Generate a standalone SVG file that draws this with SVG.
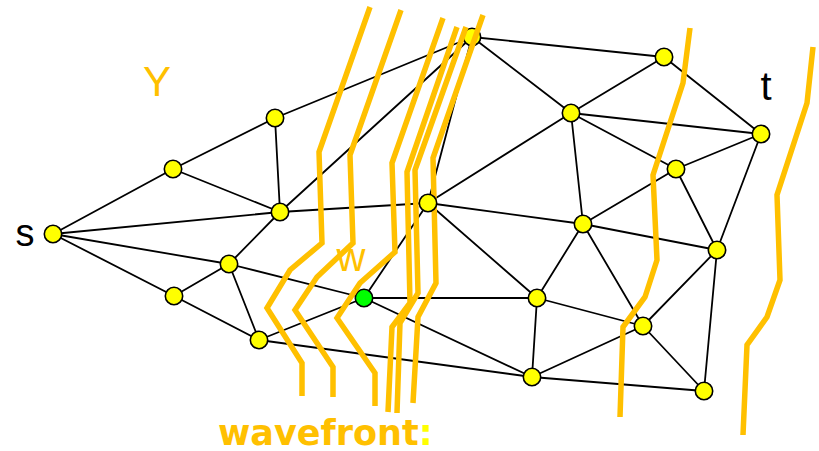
<svg xmlns="http://www.w3.org/2000/svg" width="819" height="451" viewBox="0 0 819 451">
  <defs>
    <style>
      .edge { stroke: #000; stroke-width: 1.8; fill: none; stroke-linecap: round; }
      .node { fill: #FFFF00; stroke: #000; stroke-width: 1.6; }
      .start { fill: #00FF00; stroke: #000; stroke-width: 1.6; }
      .wave { stroke: #FFC000; stroke-width: 5.5; fill: none; stroke-linejoin: miter; stroke-linecap: butt; }
      .lbl { font-family: "Liberation Sans", Arial, sans-serif; }
      .title { font-family: "DejaVu Sans", "Liberation Sans", sans-serif; font-weight: bold; }
    </style>
  </defs>
  <rect width="819" height="451" fill="#fff"/>

  <!-- connectors -->
  <g id="edges" class="edge">
    <line x1="53" y1="234" x2="173" y2="169"/>
    <line x1="53" y1="234" x2="280" y2="212"/>
    <line x1="53" y1="234" x2="229" y2="264"/>
    <line x1="53" y1="234" x2="174" y2="296"/>
    <line x1="173" y1="169" x2="275" y2="118"/>
    <line x1="173" y1="169" x2="280" y2="212"/>
    <line x1="275" y1="118" x2="280" y2="212"/>
    <line x1="275" y1="118" x2="472" y2="37"/>
    <line x1="280" y1="212" x2="472" y2="37"/>
    <line x1="280" y1="212" x2="428" y2="203"/>
    <line x1="280" y1="212" x2="229" y2="264"/>
    <line x1="229" y1="264" x2="174" y2="296"/>
    <line x1="229" y1="264" x2="259" y2="340"/>
    <line x1="229" y1="264" x2="364" y2="298"/>
    <line x1="174" y1="296" x2="259" y2="340"/>
    <line x1="259" y1="340" x2="364" y2="298"/>
    <line x1="259" y1="340" x2="532" y2="377"/>
    <line x1="364" y1="298" x2="428" y2="203"/>
    <line x1="364" y1="298" x2="537" y2="298"/>
    <line x1="364" y1="298" x2="532" y2="377"/>
    <line x1="428" y1="203" x2="472" y2="37"/>
    <line x1="428" y1="203" x2="571" y2="113"/>
    <line x1="428" y1="203" x2="583" y2="224"/>
    <line x1="428" y1="203" x2="537" y2="298"/>
    <line x1="472" y1="37" x2="664" y2="57"/>
    <line x1="472" y1="37" x2="571" y2="113"/>
    <line x1="664" y1="57" x2="571" y2="113"/>
    <line x1="664" y1="57" x2="761" y2="134"/>
    <line x1="571" y1="113" x2="761" y2="134"/>
    <line x1="571" y1="113" x2="676" y2="169"/>
    <line x1="571" y1="113" x2="583" y2="224"/>
    <line x1="761" y1="134" x2="676" y2="169"/>
    <line x1="761" y1="134" x2="717" y2="250"/>
    <line x1="676" y1="169" x2="583" y2="224"/>
    <line x1="676" y1="169" x2="717" y2="250"/>
    <line x1="583" y1="224" x2="717" y2="250"/>
    <line x1="583" y1="224" x2="537" y2="298"/>
    <line x1="583" y1="224" x2="643" y2="326"/>
    <line x1="717" y1="250" x2="643" y2="326"/>
    <line x1="717" y1="250" x2="704" y2="391"/>
    <line x1="537" y1="298" x2="643" y2="326"/>
    <line x1="537" y1="298" x2="532" y2="377"/>
    <line x1="643" y1="326" x2="532" y2="377"/>
    <line x1="643" y1="326" x2="704" y2="391"/>
    <line x1="532" y1="377" x2="704" y2="391"/>
  </g>

  <!-- nodes drawn beneath the wavefronts -->
  <g id="node-h"><circle class="node" cx="472" cy="37" r="8.7"/></g>
  <g id="node-w"><circle class="start" cx="364" cy="298" r="8.7"/></g>

  <!-- wavefronts -->
  <g id="wavefronts" class="wave">
    <polyline points="370,7 319,152 322,243 290,270 267,308 302,363 302,396"/>
    <polyline points="401,10 350,155 353,243 317,277 295,310 333,367 333,397"/>
    <polyline points="443,18 392,163 395,252 360,283 337,318 375,373 375,406"/>
    <polyline points="457,27 407,172 410,303 392,327 388,412"/>
    <polyline points="466,27 415,170 418,293 400,323 397,413"/>
    <polyline points="483,15 433,158 436,283 418,317 413,403"/>
    <polyline points="690,28 683,83 653,175 657,260 645,297 623,327 620,417"/>
    <polyline points="813,47 807,103 777,195 780,280 767,317 747,345 743,435"/>
  </g>

  <!-- nodes -->
  <g id="node-s"><circle class="node" cx="53" cy="234" r="8.7"/></g>
  <g id="node-a"><circle class="node" cx="173" cy="169" r="8.7"/></g>
  <g id="node-b"><circle class="node" cx="275" cy="118" r="8.7"/></g>
  <g id="node-c"><circle class="node" cx="280" cy="212" r="8.7"/></g>
  <g id="node-d"><circle class="node" cx="229" cy="264" r="8.7"/></g>
  <g id="node-e"><circle class="node" cx="174" cy="296" r="8.7"/></g>
  <g id="node-f"><circle class="node" cx="259" cy="340" r="8.7"/></g>
  <g id="node-g"><circle class="node" cx="428" cy="203" r="8.7"/></g>
  <g id="node-i"><circle class="node" cx="664" cy="57" r="8.7"/></g>
  <g id="node-j"><circle class="node" cx="571" cy="113" r="8.7"/></g>
  <g id="node-t"><circle class="node" cx="761" cy="134" r="8.7"/></g>
  <g id="node-l"><circle class="node" cx="676" cy="169" r="8.7"/></g>
  <g id="node-m"><circle class="node" cx="583" cy="224" r="8.7"/></g>
  <g id="node-n"><circle class="node" cx="717" cy="250" r="8.7"/></g>
  <g id="node-o"><circle class="node" cx="537" cy="298" r="8.7"/></g>
  <g id="node-p"><circle class="node" cx="643" cy="326" r="8.7"/></g>
  <g id="node-q"><circle class="node" cx="532" cy="377" r="8.7"/></g>
  <g id="node-r"><circle class="node" cx="704" cy="391" r="8.7"/></g>

  <!-- labels -->
  <g id="labels" class="lbl">
    <text x="157" y="96" font-size="42" fill="#FFC000" text-anchor="middle">Y</text>
    <text x="25" y="246" font-size="38" fill="#000" text-anchor="middle">s</text>
    <text x="766" y="100" font-size="40" fill="#000" text-anchor="middle">t</text>
    <text x="351" y="271" font-size="40" fill="#FFC000" text-anchor="middle">w</text>
  </g>
  <text class="title" x="218" y="445" font-size="35" fill="#FFC000">wavefront<tspan fill="#FFFF00">:</tspan></text>
</svg>
